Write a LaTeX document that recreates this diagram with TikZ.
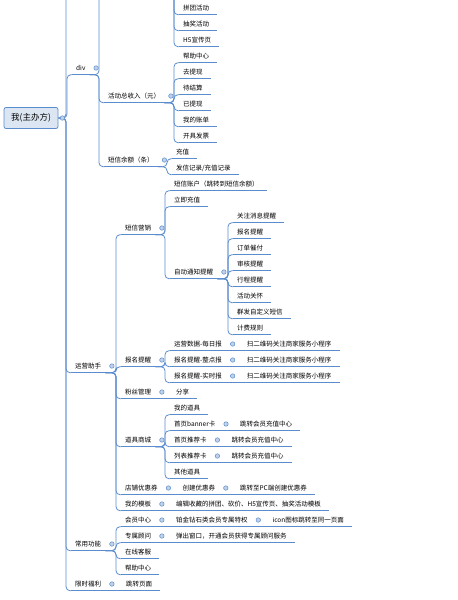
\documentclass[tikz,border=0pt]{standalone}
\usepackage{fontspec}
\setmainfont{Noto Sans CJK SC}
\usepackage{xcolor}
\usetikzlibrary{positioning}
\definecolor{lineblue}{RGB}{91,141,206}
\definecolor{dotfill}{RGB}{192,208,232}
\definecolor{rootfill}{RGB}{220,230,242}
\begin{document}
\begin{tikzpicture}[x=1pt, y=-1pt,
    topic/.style={anchor=west, inner xsep=4pt, inner ysep=0pt, minimum height=13pt, font=\fontsize{6.5}{7}\selectfont},
    follow/.style={right=16.5pt of #1},
    rootbox/.style={rectangle, rounded corners=2pt, draw=lineblue, fill=rootfill, line width=0.8pt, minimum width=54pt, minimum height=21pt, inner sep=0pt, font=\fontsize{8.5}{9}\selectfont},
    link/.style={draw=lineblue, line width=0.8pt, rounded corners=4pt},
    branch/.style={to path={-| ([xshift=-5pt]\tikztotarget) -- (\tikztotarget)}},
    dot/.style={circle, draw=lineblue, fill=dotfill, line width=0.5pt, inner sep=0pt, minimum size=4.5pt}]
\useasboundingbox (0,0) rectangle (458,600);
\clip (0,0) rectangle (458,600);

% root and first level
\node[rootbox] (root) at (31,118) {我(主办方)};
\node[topic] (div) at (72,68) {div};
\node[topic] (yyzs) at (71,366) {运营助手};
\node[topic] (cygn) at (71,544) {常用功能};
\node[topic] (xsfl) at (71,584) {限时福利};
\coordinate (rootUp) at (71,-20);

% div
\node[topic] (hdsr) at (104,96) {活动总收入（元）};
\node[topic] (dxye) at (104,160) {短信余额（条）};
\coordinate (divUp) at (104,-20);

% activities (parent above the top edge)
\coordinate (hdUp) at (174,-20);
\coordinate (hdTop) at (179,-1.5);
\node[topic] (ptdh) at (179,8) {拼团活动};
\node[topic] (cjhd) at (179,24) {抽奖活动};
\node[topic] (xcy) at (179,40) {H5宣传页};

% income
\node[topic] (bzzx) at (179,56) {帮助中心};
\node[topic] (qtx) at (179,72) {去提现};
\node[topic] (djs) at (179,88) {待结算};
\node[topic] (ytx) at (179,104) {已提现};
\node[topic] (wdzd) at (179,120) {我的账单};
\node[topic] (kjfp) at (179,136) {开具发票};

% sms balance
\node[topic] (cz) at (172,152) {充值};
\node[topic] (fxjl) at (172,168) {发信记录/充值记录};

% assistant
\node[topic] (dxyx) at (121,228) {短信营销};
\node[topic] (bmtx) at (121,360) {报名提醒};
\node[topic] (fsgl) at (121,392) {粉丝管理};
\node[topic] (djsc) at (121,440) {道具商城};
\node[topic] (dpyhq) at (121,488) {店铺优惠券};
\node[topic] (wdmb) at (121,504) {我的模板};

% sms marketing
\node[topic] (dxzh) at (170,184) {短信账户（跳转到短信余额）};
\node[topic] (ljcz) at (170,200) {立即充值};
\node[topic] (zdtz) at (170,272) {自动通知提醒};
\node[topic] (gzxx) at (233,216) {关注消息提醒};
\node[topic] (bmtx2) at (233,232) {报名提醒};
\node[topic] (ddcf) at (233,248) {订单催付};
\node[topic] (shtx) at (233,264) {审核提醒};
\node[topic] (xctx) at (233,280) {行程提醒};
\node[topic] (hdgh) at (233,296) {活动关怀};
\node[topic] (qfdx) at (233,312) {群发自定义短信};
\node[topic] (jfgz) at (233,328) {计费规则};

% sign-up reminders
\node[topic] (mrb) at (170,344) {运营数据-每日报};
\node[topic] (zdb) at (170,360) {报名提醒-整点报};
\node[topic] (ssb) at (170,376) {报名提醒-实时报};
\node[topic, follow=mrb] (smA) {扫二维码关注商家服务小程序};
\node[topic, follow=zdb] (smB) {扫二维码关注商家服务小程序};
\node[topic, follow=ssb] (smC) {扫二维码关注商家服务小程序};

% fans
\node[topic, follow=fsgl] (fx) {分享};

% props
\node[topic] (wddj) at (170,408) {我的道具};
\node[topic] (syb) at (170,424) {首页banner卡};
\node[topic] (sytj) at (170,440) {首页推荐卡};
\node[topic] (lbtj) at (170,456) {列表推荐卡};
\node[topic] (qtdj) at (170,472) {其他道具};
\node[topic, follow=syb] (tzA) {跳转会员充值中心};
\node[topic, follow=sytj] (tzB) {跳转会员充值中心};
\node[topic, follow=lbtj] (tzC) {跳转会员充值中心};

% coupons and templates
\node[topic, follow=dpyhq] (cjyhq) {创建优惠券};
\node[topic, follow=cjyhq] (pcyhq) {跳转至PC端创建优惠券};
\node[topic, follow=wdmb] (bjsc) {编辑收藏的拼团、砍价、H5宣传页、抽奖活动模板};

% common functions
\node[topic] (hyzx) at (121,520) {会员中心};
\node[topic] (zsgw) at (121,536) {专属顾问};
\node[topic] (zxkf) at (121,552) {在线客服};
\node[topic] (bzzx2) at (121,568) {帮助中心};
\node[topic, follow=hyzx] (tq) {铂金钻石类会员专属特权};
\node[topic, follow=tq] (icon) {icon图标跳转至同一页面};
\node[topic, follow=zsgw] (tcck) {弹出窗口，开通会员获得专属顾问服务};
\node[topic, follow=xsfl] (tzym) {跳转页面};

% underlines
\foreach \n in {div,yyzs,cygn,xsfl,hdsr,dxye,ptdh,cjhd,xcy,bzzx,qtx,djs,ytx,wdzd,kjfp,cz,fxjl,
    dxyx,bmtx,fsgl,djsc,dpyhq,wdmb,dxzh,ljcz,zdtz,gzxx,bmtx2,ddcf,shtx,xctx,hdgh,qfdx,jfgz,
    mrb,zdb,ssb,smA,smB,smC,fx,wddj,syb,sytj,lbtj,qtdj,tzA,tzB,tzC,cjyhq,pcyhq,bjsc,
    hyzx,zsgw,zxkf,bzzx2,tq,icon,tcck,tzym}
  \draw[link] (\n.south west) -- ([xshift=4pt]\n.south east);

% branches
\draw[link] (root.east) to[branch] (rootUp);
\foreach \c in {div,yyzs,cygn,xsfl} \draw[link] (root.east) to[branch] (\c.south west);
\draw[link] (div.south east) to[branch] (divUp);
\foreach \c in {hdsr,dxye} \draw[link] (div.south east) to[branch] (\c.south west);
\draw[link] (hdUp) |- (hdTop) -- ++(40,0);
\foreach \c in {ptdh,cjhd,xcy} \draw[link] (hdUp) |- (\c.south west);
\foreach \c in {bzzx,qtx,djs,ytx,wdzd,kjfp} \draw[link] (hdsr.south east) to[branch] (\c.south west);
\foreach \c in {cz,fxjl} \draw[link] (dxye.south east) to[branch] (\c.south west);
\foreach \c in {dxyx,bmtx,fsgl,djsc,dpyhq,wdmb} \draw[link] (yyzs.south east) to[branch] (\c.south west);
\foreach \c in {dxzh,ljcz,zdtz} \draw[link] (dxyx.south east) to[branch] (\c.south west);
\foreach \c in {gzxx,bmtx2,ddcf,shtx,xctx,hdgh,qfdx,jfgz} \draw[link] (zdtz.south east) to[branch] (\c.south west);
\foreach \c in {mrb,zdb,ssb} \draw[link] (bmtx.south east) to[branch] (\c.south west);
\foreach \c in {wddj,syb,sytj,lbtj,qtdj} \draw[link] (djsc.south east) to[branch] (\c.south west);
\foreach \c in {hyzx,zsgw,zxkf,bzzx2} \draw[link] (cygn.south east) to[branch] (\c.south west);
\foreach \p/\c in {mrb/smA,zdb/smB,ssb/smC,fsgl/fx,syb/tzA,sytj/tzB,lbtj/tzC,
    dpyhq/cjyhq,cjyhq/pcyhq,wdmb/bjsc,hyzx/tq,tq/icon,zsgw/tcck,xsfl/tzym}
  \draw[link] (\p.south east) -- (\c.south west);

% collapse dots
\node[dot] (root-dot) at ([xshift=4pt]root.east) {};
\foreach \n in {div,yyzs,cygn,xsfl,hdsr,dxye,dxyx,zdtz,bmtx,mrb,zdb,ssb,fsgl,djsc,
    syb,sytj,lbtj,dpyhq,cjyhq,wdmb,hyzx,tq,zsgw}
  \node[dot] (\n-dot) at ([xshift=6.5pt]\n.east) {};
\end{tikzpicture}
\end{document}
